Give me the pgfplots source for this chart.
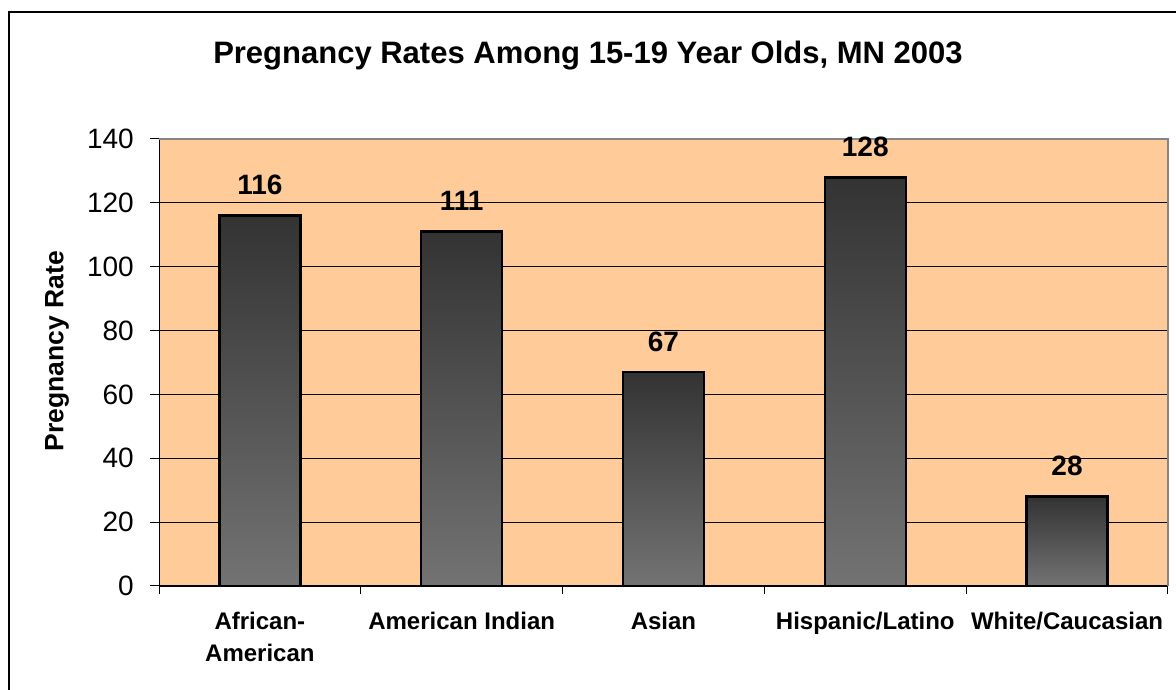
\documentclass[border=0pt]{standalone}
\usepackage{fontspec}
\setmainfont{Liberation Sans}
\usepackage{pgfplots}
\pgfplotsset{compat=1.18}
\definecolor{plotbg}{HTML}{FFCC99}
\definecolor{bartop}{HTML}{333333}
\definecolor{barbot}{HTML}{737373}
\definecolor{frame}{HTML}{858585}
\begin{document}
\begin{tikzpicture}[x=1bp,y=1bp]
\useasboundingbox (0,0) rectangle (1176,690);
\begin{scope}
\clip (0,0) rectangle (1176,690);
\draw[line width=1.5bp] (9,-10) -- (9,678) -- (1190,678);
\end{scope}
\node[font=\bfseries\fontsize{31bp}{36bp}\selectfont, anchor=base] at (588,626) {Pregnancy Rates Among 15-19 Year Olds, MN 2003};
\begin{axis}[
  at={(159bp,104bp)}, anchor=south west, scale only axis,
  width=1009bp, height=447bp,
  xmin=-0.5, xmax=4.5, ymin=0, ymax=140,
  axis x line*=bottom, axis y line*=left,
  axis line style={-, black, line width=1bp},
  ytick={0,20,...,140},
  xtick={0,1,2,3,4},
  xticklabels={{African-\\American},{American Indian},{Asian},{Hispanic/Latino},{White/Caucasian}},
  minor xtick={-0.5,0.5,1.5,2.5,3.5,4.5},
  major x tick style={draw=none},
  tick align=outside,
  major tick length=9bp, minor tick length=8bp,
  tick style={black, line width=1bp},
  axis background/.style={fill=plotbg},
  ymajorgrids, grid style={black, line width=0.8bp},
  /pgf/number format/assume math mode=true,
  yticklabel style={font=\fontsize{28bp}{34bp}\selectfont, inner sep=0pt, xshift=-16bp},
  xticklabel style={font=\bfseries\fontsize{24bp}{32bp}\selectfont, align=center, anchor=north, inner sep=0pt, yshift=-17bp},
  ylabel={Pregnancy Rate},
  every axis y label/.style={at={(axis description cs:-0.101,0.525)}, rotate=90, anchor=center, font=\bfseries\fontsize{26.5bp}{30bp}\selectfont},
  clip=false,
  mybar/.style={ybar, bar shift=0pt, bar width=81bp, draw=black, line width=2.4bp, top color=bartop, bottom color=barbot,
    nodes near coords,
    every node near coord/.style={font=\bfseries\fontsize{28bp}{34bp}\selectfont, text=black, anchor=base, inner sep=0pt, yshift=21bp}},
]
\addplot[mybar] coordinates {(0,116)};
\addplot[mybar] coordinates {(1,111)};
\addplot[mybar] coordinates {(2,67)};
\addplot[mybar] coordinates {(3,128)};
\addplot[mybar] coordinates {(4,28)};
\draw[frame, line width=1.5bp] (rel axis cs:0,1) -- (rel axis cs:1,1) -- (rel axis cs:1,0);
\end{axis}
\end{tikzpicture}
\end{document}
